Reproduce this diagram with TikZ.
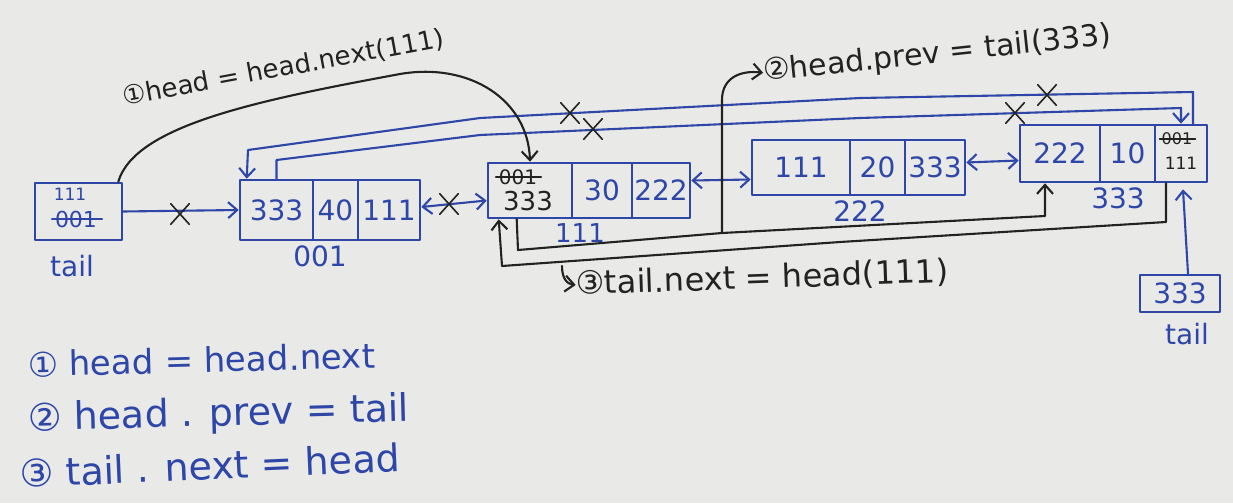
\documentclass[tikz,border=0pt]{standalone}
\usepackage{fontspec}
\setmainfont{DejaVu Sans}
\usetikzlibrary{arrows.meta,shapes.misc,calc}
\definecolor{ink}{HTML}{2D46A8}
\definecolor{pen}{HTML}{222222}
\definecolor{paper}{HTML}{E9E9E7}
\newcommand\myfs[1]{\fontsize{#1}{#1}\selectfont}
\begin{document}
\begin{tikzpicture}[x=1pt,y=-1pt, line cap=round, line join=round,
  cell/.style={draw=ink, line width=2.6pt, inner sep=0pt, text=ink, font=\myfs{28}},
  lbl/.style={text=ink, font=\myfs{28}, inner sep=0pt},
  bl/.style={draw=ink, line width=2.1pt},
  kl/.style={draw=pen, line width=2.1pt},
  tip/.style={-{Straight Barb[length=9pt,width=16pt]}},
  dtip/.style={{Straight Barb[length=9pt,width=16pt]}-{Straight Barb[length=9pt,width=16pt]}},
  xm/.style={draw=pen, line width=1.6pt, cross out, minimum width=17pt, minimum height=19pt, inner sep=0pt},
  note/.style={text=pen, inner sep=0pt, anchor=base west},
  leg/.style={text=ink, inner sep=0pt, anchor=base west},
  old/.style={inner sep=0pt}
]
\fill[paper] (0,0) rectangle (1233,503);
\useasboundingbox (0,0) rectangle (1233,503);

% left tail box
\node[cell, minimum width=87, minimum height=57] (t1) at (78.5,211.5) {};
\node[old, text=ink, font=\myfs{17}] (t1n) at (70,194) {111};
\node[old, text=ink, font=\myfs{22}] (t1o) at (76,219) {001};
\draw[bl, line width=1.6pt] ($(t1o.west)+(-3,0)$) -- ($(t1o.east)+(5,0)$);
\node[lbl] (t1l) at (72,266) {tail};

% node 001
\node[cell, minimum width=73, minimum height=60] (a1) at (276.5,210) {333};
\node[cell, minimum width=45, minimum height=60] (a2) at (335.5,210) {40};
\node[cell, minimum width=62, minimum height=60] (a3) at (389,210) {111};
\node[lbl] (a1l) at (320,256) {001};

% node 111
\node[cell, minimum width=84, minimum height=55] (b1) at (530,190.5) {};
\node[cell, minimum width=60, minimum height=55] (b2) at (602,190.5) {30};
\node[cell, minimum width=58, minimum height=55] (b3) at (661,190.5) {222};
\node[old, text=pen, font=\myfs{20}] (b1o) at (518,177) {001};
\draw[kl, line width=1.6pt] ($(b1o.west)+(-3,0)$) -- ($(b1o.east)+(4,0)$);
\node[old, text=pen, font=\myfs{26}] (b1n) at (528,201) {333};
\node[lbl, font=\myfs{26}] (b1l) at (580,233) {111};

% node 222
\node[cell, minimum width=98, minimum height=55] (c1) at (801,167.5) {111};
\node[cell, minimum width=55, minimum height=55] (c2) at (877.5,167.5) {20};
\node[cell, minimum width=60, minimum height=55] (c3) at (935,167.5) {333};
\node[lbl] (c1l) at (860,211) {222};

% node 333
\node[cell, minimum width=80, minimum height=57] (d1) at (1060,153.5) {222};
\node[cell, minimum width=55, minimum height=57] (d2) at (1127.5,153.5) {10};
\node[cell, minimum width=52, minimum height=57] (d3) at (1181,153.5) {};
\node[old, text=pen, font=\myfs{16}] (d3o) at (1177,139) {001};
\draw[kl, line width=1.3pt] ($(d3o.west)+(-2,0)$) -- ($(d3o.east)+(3,0)$);
\node[old, text=pen, font=\myfs{17}] (d3n) at (1181,163) {111};
\node[lbl] (d1l) at (1118,198) {333};

% right tail box
\node[cell, minimum width=80, minimum height=37] (t2) at (1180,293.5) {333};
\node[lbl] (t2l) at (1187,334) {tail};

% blue links
\draw[bl, tip] (t1.east) -- (a1.west);
\node[xm] (x1) at (180,214) {};
\draw[bl, dtip] ($(a3.east)+(0,-3)$) -- ($(b1.west)+(0,10)$);
\node[xm] (x2) at (449,204) {};
\draw[bl, dtip] ($(b3.east)+(0,-10)$) -- ($(c1.west)+(0,12)$);
\draw[bl, dtip] ($(c3.east)+(0,-5)$) -- ($(d1.west)+(0,7)$);
\draw[bl, tip] ($(t2.north)+(8,0)$) -- ($(d3.south)+(2,6)$);

% long blue links at top
\draw[bl, tip] ($(d3.north)+(12,0)$) -- (1193,92) -- (860,98) -- (480,118) -- (248,150) -- ($(a1.north west)+(8,0)$);
\draw[bl, tip] (a1.north) -- (276.5,160) -- (480,135) -- (860,118) -- (1181,108) -- (d3.north);
\node[xm] (x3) at (570,113) {};
\node[xm] (x4) at (593,129) {};
\node[xm] (x5) at (1015,113) {};
\node[xm] (x6) at (1047,95) {};

% step 1
\draw[kl, tip] ($(t1.north east)+(-5,0)$) .. controls (135,125) and (260,100) .. (400,74) .. controls (470,62) and (528,100) .. (b1.north);
\node[note, rotate=10.5, font=\myfs{26}] (L1) at (124,106) {①head = head.next(111)};

% step 2
\coordinate (br) at (722,233);
\draw[kl, tip] ($(b1.south west)+(30,0)$) -- (518,250) -- (br) -- (1045,216) -- ($(d1.south)+(-15,0)$);
\node[note, rotate=6, font=\myfs{30}] (L2) at (764,81) {②head.prev = tail(333)};
\draw[kl, tip] (br) -- (722,100) .. controls (722,78) and (740,70) .. (L2.west);

% step 3
\draw[kl, tip] ($(d3.south)+(-15,0)$) -- (1166,222) -- (840,242) -- (502,266) -- ($(b1.south west)+(12,0)$);
\coordinate (h3) at (562,266);
\node[note, rotate=2, font=\myfs{32}] (L3) at (576,295) {③tail.next = head(111)};
\draw[kl, tip] (h3) .. controls (562,280) and (568,284) .. (L3.west);

% legend
\node[leg, rotate=1.5, font=\myfs{34}] (g1) at (28,377) {① head = head.next};
\node[leg, rotate=1.5, font=\myfs{38}] (g2) at (28,431) {② head . prev = tail};
\node[leg, rotate=2.5, font=\myfs{38}] (g3) at (20,488) {③ tail . next = head};
\end{tikzpicture}
\end{document}
